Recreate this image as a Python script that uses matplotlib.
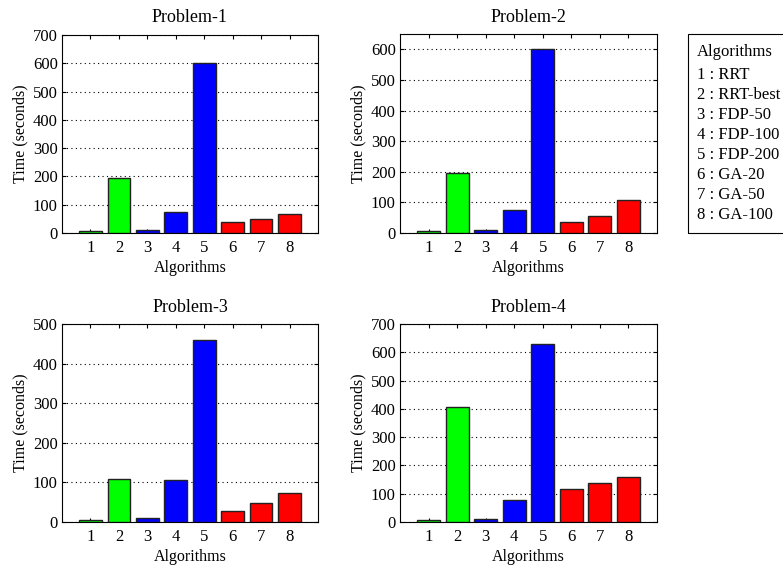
import matplotlib
matplotlib.use("Agg")
import matplotlib.pyplot as plt
from matplotlib.patches import Rectangle

plt.rcParams['font.family'] = ['Liberation Serif', 'DejaVu Serif']

algs = [1, 2, 3, 4, 5, 6, 7, 8]
alg_names = ["RRT", "RRT-best", "FDP-50", "FDP-100", "FDP-200", "GA-20", "GA-50", "GA-100"]
bar_colors = ["#00ff00", "#00ff00", "#0000ff", "#0000ff", "#0000ff", "#ff0000", "#ff0000", "#ff0000"]

titles = ["Problem-1", "Problem-2", "Problem-3", "Problem-4"]
p1 = [8, 196, 12, 75, 600, 39, 50, 67]
p2 = [8, 196, 11, 76, 600, 36, 54, 108]
p3 = [6, 109, 11, 107, 460, 29, 48, 74]
p4 = [8, 406, 12, 79, 629, 118, 139, 158]
ymaxes = [700, 650, 500, 700]

W, H = 783, 565
fig = plt.figure(figsize=(W / 100, H / 100), dpi=100)

# axes boxes in pixels: left, top, right, bottom
boxes = [(62, 35, 318, 233), (400, 34, 657, 233),
         (62, 324, 318, 522), (400, 324, 657, 522)]

for data, title, ymax, (l, t, r, b) in zip([p1, p2, p3, p4], titles, ymaxes, boxes):
    ax = fig.add_axes([l / W, 1 - b / H, (r - l) / W, (b - t) / H])
    ax.bar(algs, data, width=0.8, color=bar_colors, edgecolor="#222222", linewidth=1, zorder=3)
    ax.set_xlim(0, 9)
    ax.set_ylim(0, ymax)
    ax.set_xticks(algs)
    ax.set_yticks(range(0, ymax + 1, 100))
    ax.yaxis.grid(True, linestyle=(0, (1, 3)), color="black", linewidth=0.8, zorder=1)
    ax.tick_params(direction="in", top=True, right=True, labelsize=12, length=3)
    ax.tick_params(axis="x", pad=5)
    ax.tick_params(axis="y", pad=3)
    ax.set_title(title, fontsize=13, pad=9)
    ax.set_xlabel("Algorithms", fontsize=11.5, labelpad=3)
    ax.set_ylabel("Time (seconds)", fontsize=11.5, labelpad=3)
    for s in ax.spines.values():
        s.set_linewidth(0.8)

# legend-like text box at right (clipped by figure edge)
fig.patches.append(Rectangle((688 / W, 1 - 233 / H), 120 / W, 199 / H,
                             transform=fig.transFigure, fill=False,
                             edgecolor="black", linewidth=0.8))
fig.text(697 / W, 1 - 52 / H, "Algorithms", fontsize=12, va="center")
for i, (a, name) in enumerate(zip(algs, alg_names)):
    fig.text(697 / W, 1 - (75 + i * 20) / H, f"{a} : {name}", fontsize=12, va="center")

fig.savefig("out.png", dpi=100)
